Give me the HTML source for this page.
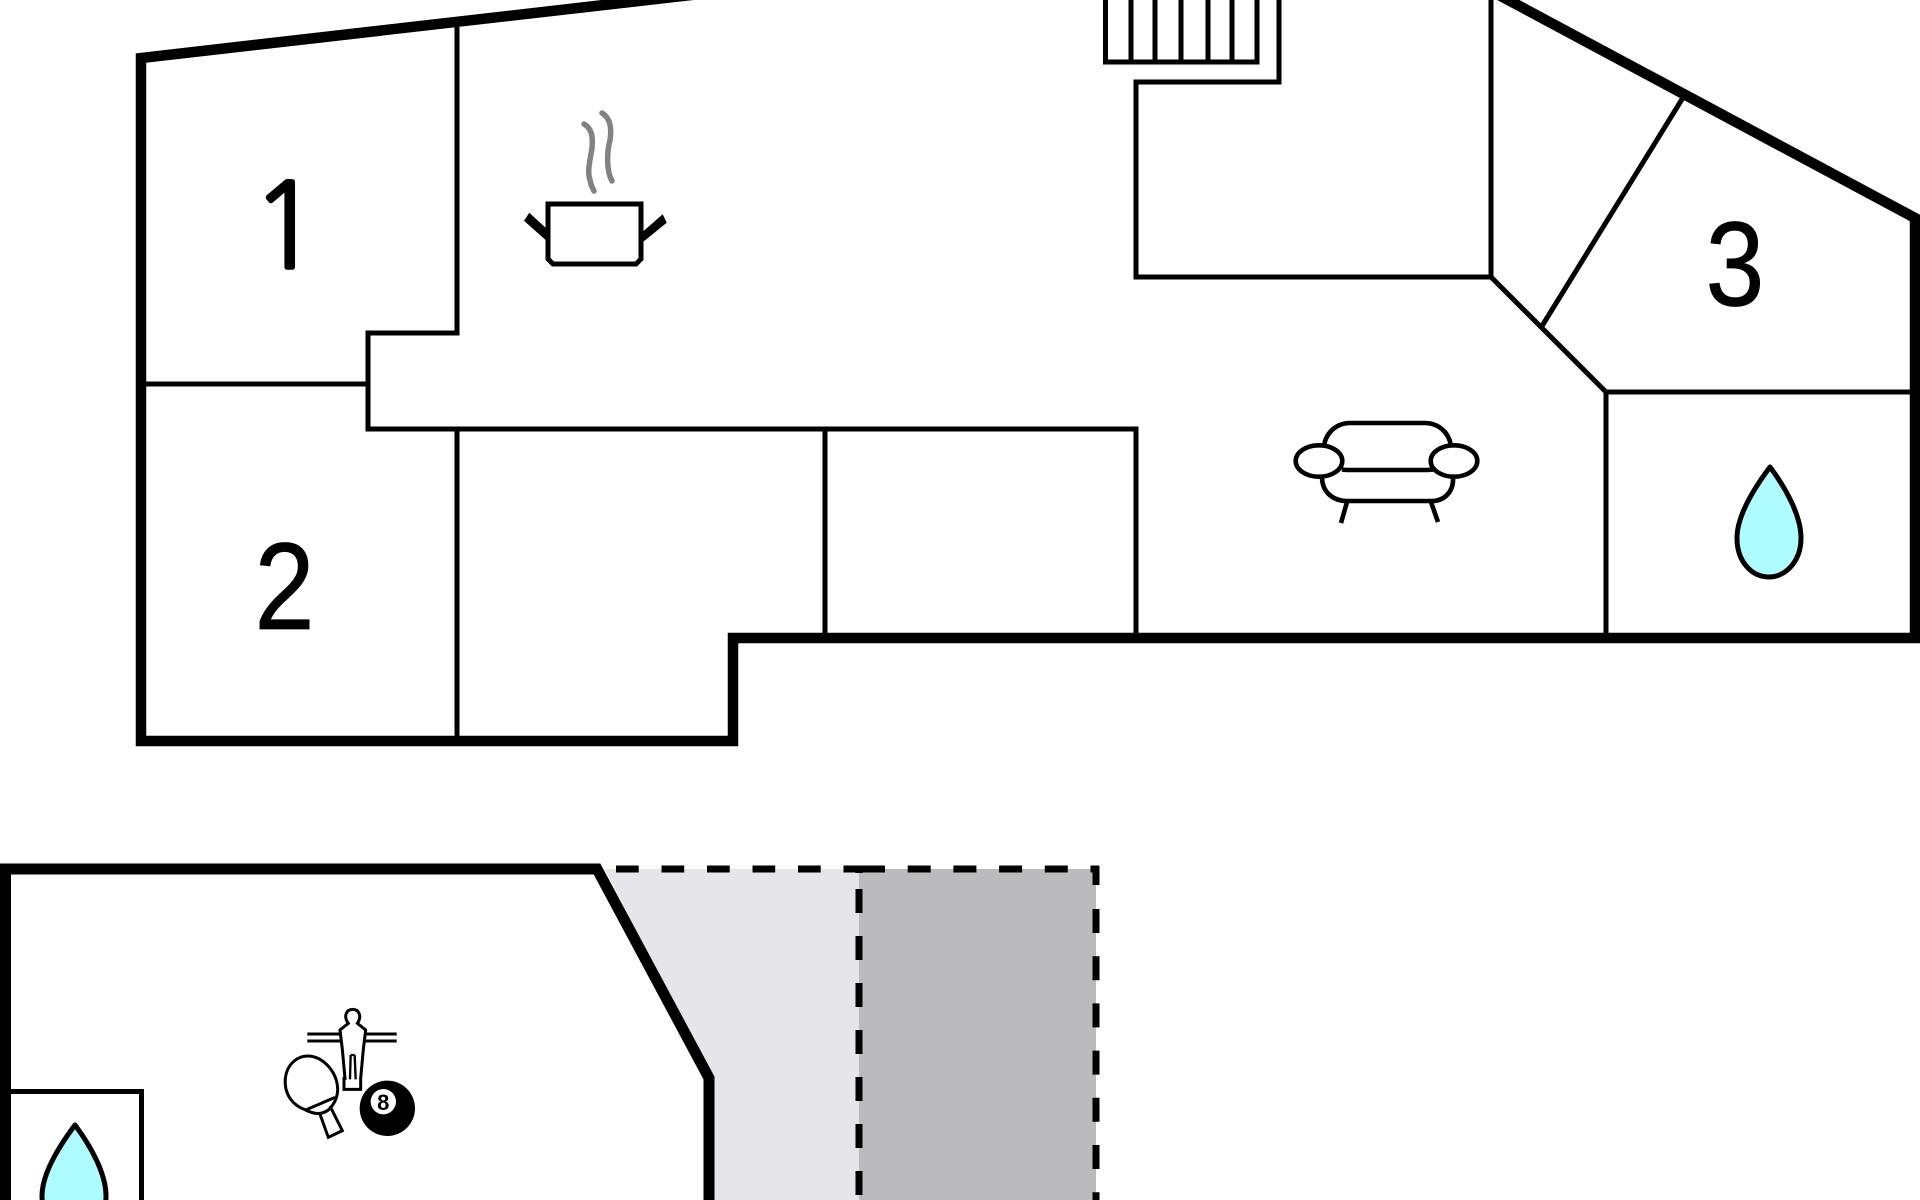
<!DOCTYPE html>
<html>
<head>
<meta charset="utf-8">
<style>
html,body{margin:0;padding:0;background:#fff;width:1920px;height:1200px;overflow:hidden}
svg{display:block}
text{font-family:"Liberation Sans",sans-serif;fill:#000}
</style>
</head>
<body>
<svg width="1920" height="1200" viewBox="0 0 1920 1200" xmlns="http://www.w3.org/2000/svg">
<rect width="1920" height="1200" fill="#fff"/>

<!-- lower shaded areas -->
<polygon points="605,869 859,869 859,1200 709,1200 709,1078" fill="#e6e6ea"/>
<rect x="859" y="869" width="237" height="331" fill="#bbbbbd"/>

<!-- upper outer wall -->
<g fill="none" stroke="#000" stroke-linejoin="miter" stroke-miterlimit="10">
  <path d="M700,-6 L141,58 L141,741 L733,741 L733,638 L1915,638 L1915,218 L1484,-13" stroke-width="10.5"/>
  <g stroke-width="5">
    <path d="M457,27 V333 H368 V429 H1136 V638"/>
    <path d="M141,384 H368"/>
    <path d="M457,429 V741"/>
    <path d="M825,429 V638"/>
    <path d="M1279,-2 V82 H1136 V277 H1491 V-2"/>
    <path d="M1491,277 L1606,392 H1915"/>
    <path d="M1606,392 V638"/>
    <path d="M1684,96 L1542,326"/>
    <path d="M1105.5,-2 V62 H1257 V-2"/>
    <path d="M1131,0 V62 M1155,0 V62 M1181,0 V62 M1208,0 V62 M1232,0 V62"/>
  </g>
  <!-- lower walls -->
  <path d="M5.5,1201 V869 H597 L709,1078 V1201" stroke-width="11"/>
  <path d="M0,1091.5 H141.5 V1201" stroke-width="5"/>
  <!-- dashed -->
  <path d="M616,869 H867" stroke-width="7" stroke-dasharray="22.7 22.8"/>
  <path d="M862,869 H1099" stroke-width="7" stroke-dasharray="23 22.7"/>
  <path d="M859,869 V873" stroke-width="7"/>
  <path d="M859,889 V1200" stroke-width="7" stroke-dasharray="24 23"/>
  <path d="M1096,866 V885" stroke-width="7"/>
  <path d="M1096,909 V1200" stroke-width="7" stroke-dasharray="24 23.2"/>
</g>

<!-- room numbers -->
<text x="0" y="0" font-size="118" text-anchor="middle" transform="translate(286,268)" stroke="#000" stroke-width="2.5" style="font-family:'NanumGothic','Liberation Sans',sans-serif">1</text>
<text x="0" y="0" font-size="120" text-anchor="middle" transform="translate(284.5,629) scale(.9,1.03)" stroke="#000" stroke-width=".8">2</text>
<text x="0" y="0" font-size="120" text-anchor="middle" transform="translate(1735,305.5) scale(.88,1)" stroke="#000" stroke-width=".8">3</text>

<!-- pot -->
<polygon points="524,220.7 529.3,212.7 551,232.7 546.7,241" fill="#000"/>
<polygon points="642.7,231.7 662.7,214.3 666.7,222.7 643.3,241.7" fill="#000"/>
<path d="M548,204 H641 V259 L636,264 H553 L548,259 Z" fill="#fff" stroke="#000" stroke-width="5"/>
<g fill="none" stroke="#828282" stroke-width="5.5" stroke-linecap="round">
  <path d="M584,124 C592,129 593,136 592,148 C590,160 587,172 590,180 C591,186 593,189 594,191"/>
  <path d="M602,113 C610,118 612,127 610,140 C607,152 606,170 612,181"/>
</g>

<!-- sofa -->
<g fill="none" stroke="#000" stroke-width="4.6">
  <path d="M1324,446 C1326,432 1337,423 1350,423 H1425 C1438,423 1449,432 1451,446"/>
  <ellipse cx="1319" cy="461" rx="23.3" ry="15.7"/>
  <ellipse cx="1454" cy="461" rx="23.3" ry="15.7"/>
  <path d="M1342,469.5 C1345,470 1348,470 1350,470 H1424 C1427,470 1430,470 1433,469.5"/>
  <path d="M1322,477 C1322,492 1333,501 1347,501 H1432 C1444,501 1454,492 1453,477"/>
  <path d="M1347,502 L1341,523 M1431,502 L1438,522"/>
</g>

<!-- water drops -->
<path d="M1770,467 C1785,487 1801,515 1801,538 C1801,562 1785,577 1769,577 C1752,577 1737,562 1737,538 C1737,515 1755,487 1770,467 Z" fill="#aefcff" stroke="#000" stroke-width="5" stroke-linejoin="round"/>
<path d="M75,1125 C90,1145 106,1173 106,1196 C106,1220 90,1235 74,1235 C57,1235 42,1220 42,1196 C42,1173 60,1145 75,1125 Z" fill="#aefcff" stroke="#000" stroke-width="5" stroke-linejoin="round"/>

<!-- games icons -->
<g transform="translate(260,990) scale(.33333)" fill="none" stroke="#000" stroke-width="9">
  <path d="M142,132 H240 M142,153 H243 M318,132 H410 M315,153 H410"/>
  <path d="M265,100 C250,80 258,58 278,58 C298,58 306,80 292,100 L317,120 L310,178 L302,265 V298 H252 V265 L255,265 L247,178 L240,120 Z" fill="#fff"/>
  <path d="M272,195 L270,268 M284,195 L287,268 M272,195 H284" stroke-width="7"/>
  <path d="M137,360 C95,345 72,310 76,265 C80,225 110,197 145,198 C190,200 230,245 233,295 C234,320 222,345 205,360 C185,375 160,372 137,360 Z" fill="#fff"/>
  <path d="M137,360 L225,322"/>
  <path d="M178,367 L205,442 L247,422 L210,348"/>
  <circle cx="382" cy="355" r="83" fill="#000" stroke="none"/>
  <circle cx="370" cy="335" r="38" fill="#fff" stroke="none"/>
</g>
<text x="383.3" y="1110" font-size="22" font-weight="bold" text-anchor="middle">8</text>
</svg>
</body>
</html>
